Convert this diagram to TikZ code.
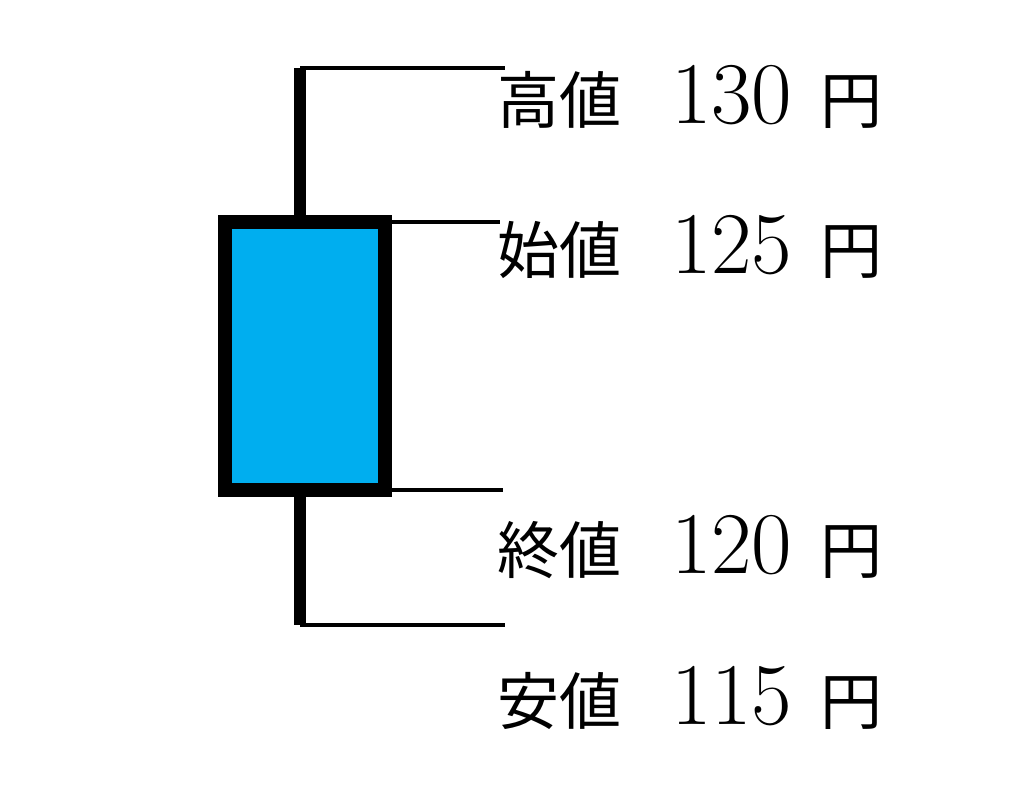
\documentclass[tikz,border=0pt]{standalone}
\usepackage{fontspec}
\newfontfamily\cjk{Noto Sans CJK JP}
\definecolor{body}{HTML}{00AEEF}
\newcommand{\lvtext}[2]{{\cjk #1}\hspace{50pt}{\fontsize{88}{90}\selectfont #2}\hspace{28pt}{\cjk 円}}
\begin{document}
\begin{tikzpicture}[x=1pt,y=-1pt,
  wick/.style={line width=12pt},
  lev/.style={line width=3.5pt},
  lbl/.style={anchor=west,inner sep=0pt,font=\fontsize{62}{64}\selectfont}]
\useasboundingbox (0,0) rectangle (1024,806);
\draw[wick] (300,68) -- (300,217);
\draw[wick] (300,495) -- (300,625);
\draw[line width=14pt,fill=body] (225,222) rectangle (385,490);
\draw[lev] (300,68) -- (505,68);
\draw[lev] (385,222) -- (500,222);
\draw[lev] (385,490) -- (503,490);
\draw[lev] (300,625) -- (505,625);
\node[lbl] (hi) at (497,97) {\lvtext{高値}{130}};
\node[lbl] (op) at (497,247) {\lvtext{始値}{125}};
\node[lbl] (cl) at (497,547) {\lvtext{終値}{120}};
\node[lbl] (lo) at (497,698) {\lvtext{安値}{115}};
\end{tikzpicture}
\end{document}
